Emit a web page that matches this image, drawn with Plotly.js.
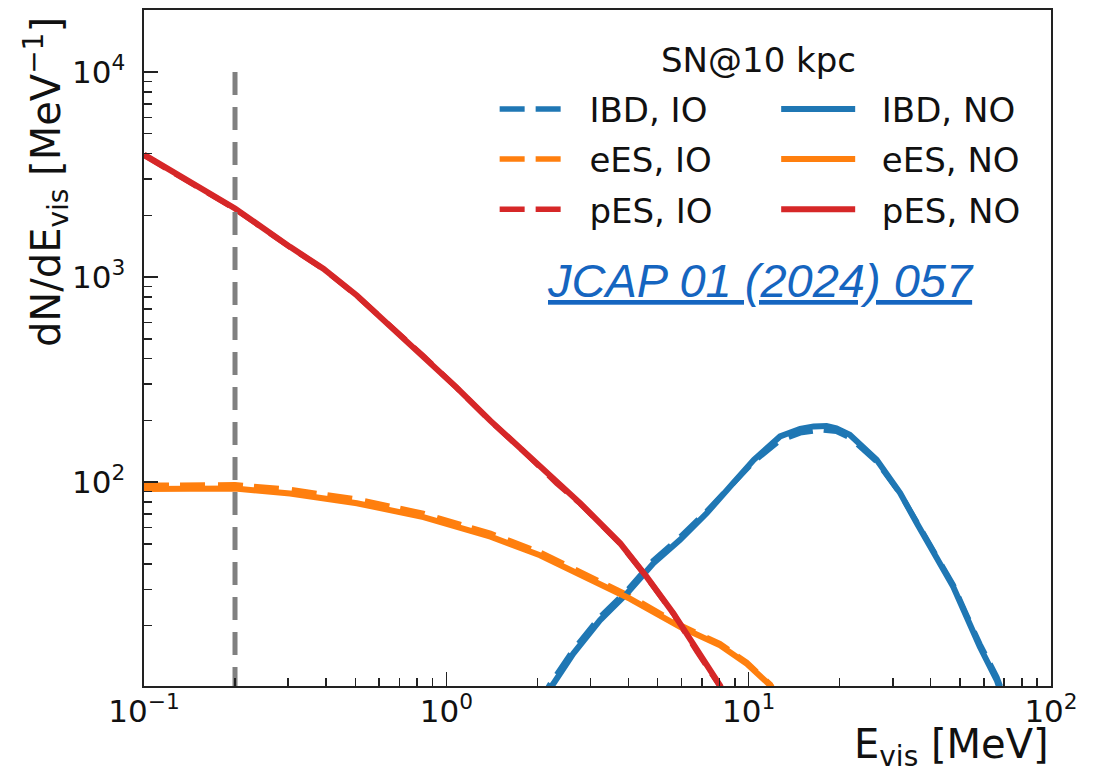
<!DOCTYPE html>
<html>
<head>
<meta charset="utf-8">
<script src="https://cdn.plot.ly/plotly-3.0.1.min.js"></script>
<style>html,body{margin:0;padding:0;background:#fff;}#chart{width:1102px;height:772px;}</style>
</head>
<body>
<div id="chart"></div>
<script>
// ---- data ----
const ibdNO_E = [2.0, 2.26, 2.63, 3.22, 3.95, 4.84, 5.93, 7.26, 8.67, 10.4, 12.7, 14.8, 16.4, 18.1, 19.5, 21.6, 26.5, 31.7, 36, 40.8, 47.5, 52.6, 58.2, 66.2, 70];
const ibdNO_N = [8.3, 10.4, 14.6, 21.2, 28.6, 40.2, 52.3, 70.5, 95, 128.5, 167, 182, 187, 188, 183, 170, 128.5, 88.4, 63, 45, 30.9, 22, 15.7, 10.8, 8.5];
const ibdIO_E = [2.0, 2.2, 2.63, 3.22, 3.95, 4.84, 5.93, 7.26, 8.67, 10.4, 12.7, 14.8, 17.5, 19.5, 21.6, 26.5, 31.7, 36, 40.8, 47.5, 52.6, 58.2, 66.2, 70];
const ibdIO_N = [8.2, 10.3, 15.2, 22, 29.5, 41.5, 54, 72, 95, 126, 160, 174, 180, 177, 165, 126, 88, 63.5, 46, 31.5, 22.5, 16.2, 11.2, 9];

const eesNO_E = [0.1, 0.15, 0.2, 0.304, 0.506, 0.84, 1.40, 2.04, 2.99, 4.05, 5.93, 8.04, 9.86, 11.8, 13];
const eesNO_N = [92.5, 93.5, 93, 88, 78.9, 67.5, 54.2, 44, 33.3, 27, 19.7, 16.0, 13, 10.2, 8];
const eesIO_E = [0.1, 0.15, 0.2, 0.304, 0.506, 0.84, 1.40, 2.04, 2.99, 4.05, 5.93, 8.04, 9.86, 11.8, 13];
const eesIO_N = [96.5, 97.5, 97, 92, 82.5, 70.3, 56.2, 45.5, 34.3, 27.8, 20.1, 16.3, 13.2, 10.3, 8.1];

const pesNO_E = [0.1, 0.2, 0.304, 0.392, 0.506, 0.652, 0.84, 1.08, 1.40, 1.80, 2.32, 2.77, 3.76, 4.6, 5.64, 6.73, 8.04, 9];
const pesNO_N = [3950, 2160, 1403, 1099, 813, 580, 414, 290, 199, 142, 98.9, 79, 50.3, 34.5, 22.9, 15.1, 10.2, 7];
const pesIO_E = [0.1, 0.2, 0.304, 0.392, 0.506, 0.652, 0.84, 1.08, 1.40, 1.80, 2.32, 2.77, 3.76, 4.6, 5.64, 6.73, 8.04, 9];
const pesIO_N = [3920, 2150, 1398, 1095, 810, 578, 412, 289, 198, 141.5, 98.5, 78.7, 50.1, 34.4, 22.8, 15, 10.1, 7];

const thrE = [0.2, 0.2];
const thrN = [10000, 1];

const seriesNames = {IBD: 'IBD', eES: 'eES', pES: 'pES'};
const legendTitle = 'SN@10 kpc';
const refText = 'JCAP 01 (2024) 057';

const xTickVals = [0.1, 1, 10, 100];
const xTickText = ['10<sup>\u22121</sup>', '10<sup>0</sup>', '10<sup>1</sup>', '10<sup>2</sup>'];
const yTickVals = [100, 1000, 10000];
const yTickText = ['10<sup>2</sup>', '10<sup>3</sup>', '10<sup>4</sup>'];
const xMinor = [0.2,0.3,0.4,0.5,0.6,0.7,0.8,0.9, 2,3,4,5,6,7,8,9, 20,30,40,50,60,70,80,90];
const yMinor = [20,30,40,50,60,70,80,90, 200,300,400,500,600,700,800,900, 2000,3000,4000,5000,6000,7000,8000,9000];

// ---- styles ----
const C = {IBD: '#1f77b4', eES: '#ff7f0e', pES: '#d62728', thr: '#808080'};
const DASH = '25px,11px,25px,13px';
const FONT = 'DejaVu Sans, sans-serif';
const pad1 = '\u00a0';
const pad2 = '\u00a0\u00a0';

function io(x, y, key) {
  return {x: x, y: y, type: 'scatter', mode: 'lines', name: pad1 + seriesNames[key] + ', IO',
    line: {color: C[key], width: 5.5, dash: DASH}, legend: 'legend', legendgroup: key + 'IO'};
}
function no(x, y, key) {
  return {x: x, y: y, type: 'scatter', mode: 'lines', name: pad2 + seriesNames[key] + ', NO',
    line: {color: C[key], width: 6}, legend: 'legend2', legendgroup: key + 'NO'};
}

const data = [
  io(ibdIO_E, ibdIO_N, 'IBD'),
  io(eesIO_E, eesIO_N, 'eES'),
  io(pesIO_E, pesIO_N, 'pES'),
  no(ibdNO_E, ibdNO_N, 'IBD'),
  no(eesNO_E, eesNO_N, 'eES'),
  no(pesNO_E, pesNO_N, 'pES'),
  {x: thrE, y: thrN, type: 'scatter', mode: 'lines', showlegend: false,
   line: {color: C.thr, width: 5, dash: '23px,12px'}}
];

const axisCommon = {
  type: 'log', showgrid: false, zeroline: false,
  showline: true, mirror: true, linecolor: '#222', linewidth: 1.6,
  ticks: 'inside', ticklen: 14, tickwidth: 1.6, tickcolor: '#222',
  tickmode: 'array',
  tickfont: {family: FONT, size: 31, color: '#111'}
};

const legendCommon = {
  orientation: 'v', xanchor: 'left', yanchor: 'top',
  bgcolor: 'rgba(0,0,0,0)', borderwidth: 0,
  font: {family: FONT, size: 34, color: '#111'},
  itemwidth: 74, tracegroupgap: 3, traceorder: 'grouped', itemclick: false
};

const layout = {
  width: 1102, height: 772,
  margin: {l: 144, r: 51, t: 10, b: 86},
  paper_bgcolor: '#fff', plot_bgcolor: '#fff',
  showlegend: true,
  xaxis: Object.assign({}, axisCommon, {
    range: [-1, 2], tickvals: xTickVals, ticktext: xTickText, ticklabelstandoff: -3,
    minor: {tickmode: 'array', tickvals: xMinor, ticks: 'inside', ticklen: 8, tickwidth: 1.6, tickcolor: '#222', showgrid: false}
  }),
  yaxis: Object.assign({}, axisCommon, {
    range: [1.006, 4.302], tickvals: yTickVals, ticktext: yTickText, ticklabelstandoff: 11,
    minor: {tickmode: 'array', tickvals: yMinor, ticks: 'inside', ticklen: 8, tickwidth: 1.6, tickcolor: '#222', showgrid: false}
  }),
  legend: Object.assign({}, legendCommon, {x: 0.3866, y: 0.896}),
  legend2: Object.assign({}, legendCommon, {x: 0.697, y: 0.896}),
  annotations: [
    {text: legendTitle, xref: 'paper', yref: 'paper', x: 0.677, y: 0.926, xanchor: 'center', yanchor: 'middle',
     showarrow: false, font: {family: FONT, size: 34, color: '#111'}},
    {text: '<u>' + refText + '</u>', xref: 'paper', yref: 'paper', x: 0.680, y: 0.600, xanchor: 'center', yanchor: 'middle',
     showarrow: false, font: {family: 'Liberation Sans, Arial, sans-serif', size: 47, color: '#1565c0', style: 'italic'}},
    {text: 'E<sub>vis</sub> [MeV]', xref: 'paper', yref: 'paper', x: 1.0, y: -0.0895, xanchor: 'right', yanchor: 'middle',
     showarrow: false, font: {family: FONT, size: 40, color: '#111'}},
    {text: 'dN/dE<sub>vis</sub> [MeV<sup>\u22121</sup>]', xref: 'paper', yref: 'paper', x: -0.108, y: 0.9926,
     xanchor: 'center', yanchor: 'top', textangle: -90,
     showarrow: false, font: {family: FONT, size: 40, color: '#111'}}
  ]
};

Plotly.newPlot('chart', data, layout, {displayModeBar: false, staticPlot: true});
</script>
</body>
</html>
